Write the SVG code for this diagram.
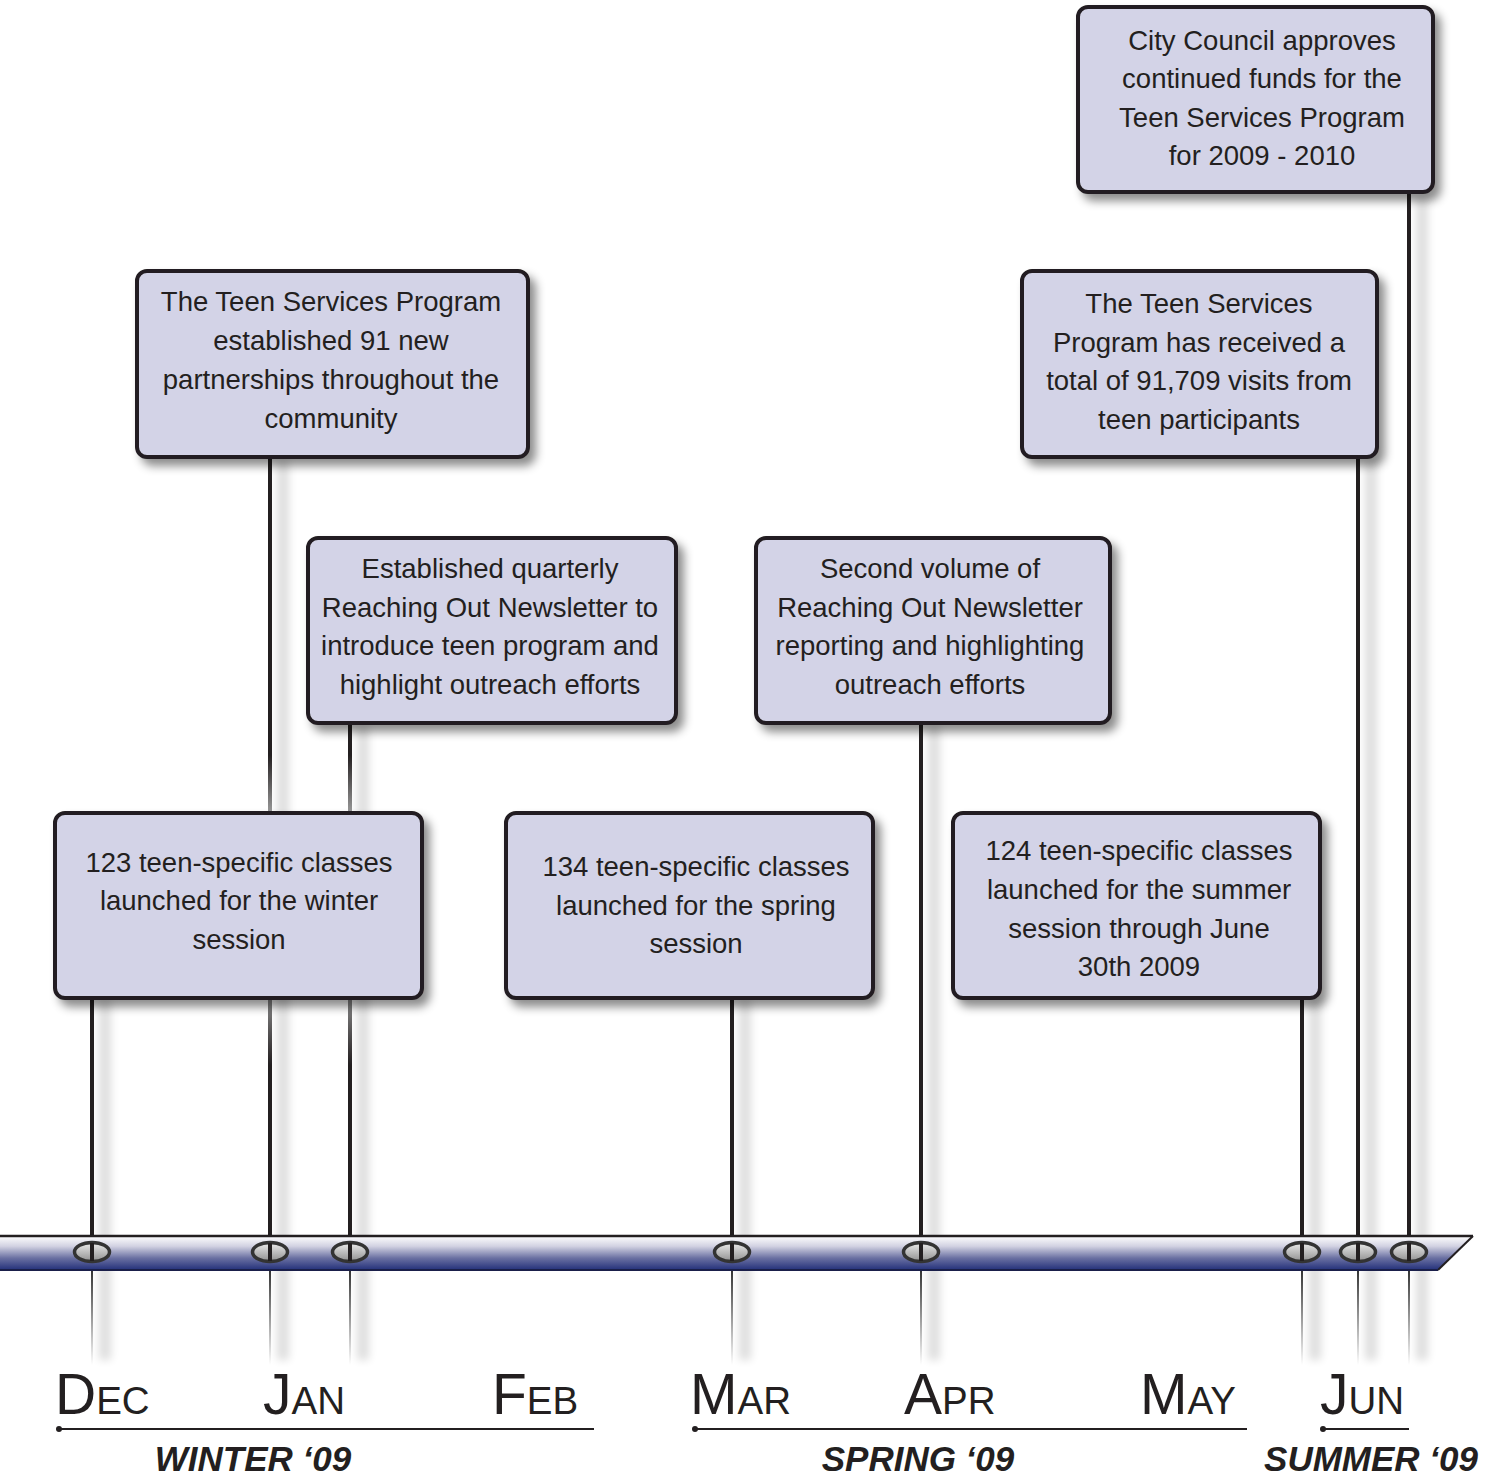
<svg xmlns="http://www.w3.org/2000/svg" width="1495" height="1477" viewBox="0 0 1495 1477">
<defs>
<style>
.box{fill:#d3d3e7;stroke:#231f20;stroke-width:4;filter:url(#ds)}
.bt{font-family:"Liberation Sans",Arial,sans-serif;font-size:27.5px;fill:#231f20;text-anchor:middle}
.con{stroke:#231f20;stroke-width:4;fill:none}
.sh{fill:#000;opacity:0.13;filter:url(#bl)}
.low{stroke:url(#lowg);stroke-width:2}
.mb{font-family:"Liberation Sans",Arial,sans-serif;font-size:57px;fill:#231f20}
.ms{font-size:38.5px}
.sea{font-family:"Liberation Sans",Arial,sans-serif;font-size:35px;font-weight:bold;font-style:italic;fill:#231f20;text-anchor:middle}
.ul{stroke:#231f20;stroke-width:2}
.mark{fill:url(#mg);stroke:#333;stroke-width:3.5}
</style>
<filter id="ds" x="-10%" y="-10%" width="125%" height="135%">
<feDropShadow dx="6" dy="7" stdDeviation="5" flood-color="#000" flood-opacity="0.45"/>
</filter>
<filter id="bl" x="-200%" y="-5%" width="500%" height="110%">
<feGaussianBlur stdDeviation="4"/>
</filter>
<linearGradient id="barg" x1="0" y1="0" x2="0" y2="1">
<stop offset="0" stop-color="#ffffff"/>
<stop offset="0.3" stop-color="#d2d2e2"/>
<stop offset="0.65" stop-color="#6a70a2"/>
<stop offset="1" stop-color="#23307a"/>
</linearGradient>
<linearGradient id="mg" x1="0" y1="0" x2="0" y2="1">
<stop offset="0" stop-color="#ececec"/>
<stop offset="1" stop-color="#909090"/>
</linearGradient>
<linearGradient id="lowg" gradientUnits="userSpaceOnUse" x1="0" y1="1270" x2="0" y2="1365">
<stop offset="0" stop-color="#333"/>
<stop offset="1" stop-color="#333" stop-opacity="0"/>
</linearGradient>
<linearGradient id="fadeA" gradientUnits="userSpaceOnUse" x1="0" y1="755" x2="0" y2="813">
<stop offset="0" stop-color="#231f20"/>
<stop offset="1" stop-color="#9a9a9a"/>
</linearGradient>
<linearGradient id="fadeB" gradientUnits="userSpaceOnUse" x1="0" y1="998" x2="0" y2="1065">
<stop offset="0" stop-color="#8a8a8a"/>
<stop offset="1" stop-color="#231f20"/>
</linearGradient>
</defs>
<rect width="1495" height="1477" fill="#fff"/>

<g id="line-shadows">
<rect class="sh" x="99" y="1000" width="12" height="360"/>
<rect class="sh" x="277" y="460" width="12" height="900"/>
<rect class="sh" x="357" y="726" width="12" height="634"/>
<rect class="sh" x="739" y="1000" width="12" height="360"/>
<rect class="sh" x="928" y="726" width="12" height="634"/>
<rect class="sh" x="1309" y="1000" width="12" height="360"/>
<rect class="sh" x="1365" y="460" width="12" height="900"/>
<rect class="sh" x="1416" y="195" width="12" height="1165"/>
</g>

<g id="connectors">
<line class="con" x1="92" y1="998" x2="92" y2="1259"/>
<line class="con" x1="270" y1="457" x2="270" y2="757"/>
<line x1="270" y1="755" x2="270" y2="815" stroke="url(#fadeA)" stroke-width="4"/>
<line x1="270" y1="996" x2="270" y2="1259" stroke="url(#fadeB)" stroke-width="4"/>
<line x1="350" y1="723" x2="350" y2="815" stroke="url(#fadeA)" stroke-width="4"/>
<line x1="350" y1="996" x2="350" y2="1259" stroke="url(#fadeB)" stroke-width="4"/>
<line class="con" x1="732" y1="998" x2="732" y2="1259"/>
<line class="con" x1="921" y1="723" x2="921" y2="1259"/>
<line class="con" x1="1302" y1="998" x2="1302" y2="1259"/>
<line class="con" x1="1358" y1="457" x2="1358" y2="1259"/>
<line class="con" x1="1409" y1="192" x2="1409" y2="1259"/>
</g>

<g id="timeline">
<polygon points="0,1236 1473,1236 1438,1270 0,1270" fill="url(#barg)"/>
<line x1="0" y1="1236" x2="1473" y2="1236" stroke="#231f20" stroke-width="2.5"/>
<line x1="1473" y1="1236" x2="1438" y2="1270" stroke="#231f20" stroke-width="2"/>
<line x1="0" y1="1270" x2="1438" y2="1270" stroke="#1a1f4a" stroke-width="2"/>
<g>
<line class="low" x1="92" y1="1271" x2="92" y2="1365"/>
<line class="low" x1="270" y1="1271" x2="270" y2="1365"/>
<line class="low" x1="350" y1="1271" x2="350" y2="1365"/>
<line class="low" x1="732" y1="1271" x2="732" y2="1365"/>
<line class="low" x1="921" y1="1271" x2="921" y2="1365"/>
<line class="low" x1="1302" y1="1271" x2="1302" y2="1365"/>
<line class="low" x1="1358" y1="1271" x2="1358" y2="1365"/>
<line class="low" x1="1409" y1="1271" x2="1409" y2="1365"/>
</g>
<g>
<ellipse class="mark" cx="92" cy="1252" rx="17.5" ry="9.5"/>
<ellipse class="mark" cx="270" cy="1252" rx="17.5" ry="9.5"/>
<ellipse class="mark" cx="350" cy="1252" rx="17.5" ry="9.5"/>
<ellipse class="mark" cx="732" cy="1252" rx="17.5" ry="9.5"/>
<ellipse class="mark" cx="921" cy="1252" rx="17.5" ry="9.5"/>
<ellipse class="mark" cx="1302" cy="1252" rx="17.5" ry="9.5"/>
<ellipse class="mark" cx="1358" cy="1252" rx="17.5" ry="9.5"/>
<ellipse class="mark" cx="1409" cy="1252" rx="17.5" ry="9.5"/>
</g>
<g stroke="#231f20" stroke-width="4">
<line x1="92" y1="1243" x2="92" y2="1261"/>
<line x1="270" y1="1243" x2="270" y2="1261"/>
<line x1="350" y1="1243" x2="350" y2="1261"/>
<line x1="732" y1="1243" x2="732" y2="1261"/>
<line x1="921" y1="1243" x2="921" y2="1261"/>
<line x1="1302" y1="1243" x2="1302" y2="1261"/>
<line x1="1358" y1="1243" x2="1358" y2="1261"/>
<line x1="1409" y1="1243" x2="1409" y2="1261"/>
</g>
</g>

<g id="node-council">
<rect class="box" x="1078" y="7" width="355" height="185" rx="10"/>
<text class="bt" x="1262" y="50">City Council approves</text>
<text class="bt" x="1262" y="88">continued funds for the</text>
<text class="bt" x="1262" y="127">Teen Services Program</text>
<text class="bt" x="1262" y="165">for 2009 - 2010</text>
</g>
<g id="node-partnerships">
<rect class="box" x="137" y="271" width="391" height="186" rx="10"/>
<text class="bt" x="331" y="311">The Teen Services Program</text>
<text class="bt" x="331" y="350">established 91 new</text>
<text class="bt" x="331" y="389">partnerships throughout the</text>
<text class="bt" x="331" y="428">community</text>
</g>
<g id="node-visits">
<rect class="box" x="1022" y="271" width="355" height="186" rx="10"/>
<text class="bt" x="1199" y="313">The Teen Services</text>
<text class="bt" x="1199" y="352">Program has received a</text>
<text class="bt" x="1199" y="390">total of 91,709 visits from</text>
<text class="bt" x="1199" y="429">teen participants</text>
</g>
<g id="node-newsletter1">
<rect class="box" x="308" y="538" width="368" height="185" rx="10"/>
<text class="bt" x="490" y="578">Established quarterly</text>
<text class="bt" x="490" y="617">Reaching Out Newsletter to</text>
<text class="bt" x="490" y="655">introduce teen program and</text>
<text class="bt" x="490" y="694">highlight outreach efforts</text>
</g>
<g id="node-newsletter2">
<rect class="box" x="756" y="538" width="354" height="185" rx="10"/>
<text class="bt" x="930" y="578">Second volume of</text>
<text class="bt" x="930" y="617">Reaching Out Newsletter</text>
<text class="bt" x="930" y="655">reporting and highlighting</text>
<text class="bt" x="930" y="694">outreach efforts</text>
</g>
<g id="node-winter">
<rect class="box" x="55" y="813" width="367" height="185" rx="10"/>
<text class="bt" x="239" y="872">123 teen-specific classes</text>
<text class="bt" x="239" y="910">launched for the winter</text>
<text class="bt" x="239" y="949">session</text>
</g>
<g id="node-spring">
<rect class="box" x="506" y="813" width="367" height="185" rx="10"/>
<text class="bt" x="696" y="876">134 teen-specific classes</text>
<text class="bt" x="696" y="915">launched for the spring</text>
<text class="bt" x="696" y="953">session</text>
</g>
<g id="node-summer">
<rect class="box" x="953" y="813" width="367" height="185" rx="10"/>
<text class="bt" x="1139" y="860">124 teen-specific classes</text>
<text class="bt" x="1139" y="899">launched for the summer</text>
<text class="bt" x="1139" y="938">session through June</text>
<text class="bt" x="1139" y="976">30th 2009</text>
</g>

<g id="months">
<text class="mb" x="55" y="1414">D<tspan class="ms">EC</tspan></text>
<text class="mb" x="263" y="1414">J<tspan class="ms">AN</tspan></text>
<text class="mb" x="492" y="1414">F<tspan class="ms">EB</tspan></text>
<text class="mb" x="690" y="1414">M<tspan class="ms">AR</tspan></text>
<text class="mb" x="904" y="1414">A<tspan class="ms">PR</tspan></text>
<text class="mb" x="1140" y="1414">M<tspan class="ms">AY</tspan></text>
<text class="mb" x="1320" y="1414">J<tspan class="ms">UN</tspan></text>
</g>
<g id="seasons">
<line class="ul" x1="58" y1="1429" x2="594" y2="1429"/>
<circle cx="59" cy="1429" r="3" fill="#231f20"/>
<line class="ul" x1="694" y1="1429" x2="1247" y2="1429"/>
<circle cx="695" cy="1429" r="3" fill="#231f20"/>
<line class="ul" x1="1322" y1="1429" x2="1409" y2="1429"/>
<circle cx="1323" cy="1429" r="3" fill="#231f20"/>
<text class="sea" x="253" y="1471">WINTER ‘09</text>
<text class="sea" x="918" y="1471">SPRING ‘09</text>
<text class="sea" x="1371" y="1471">SUMMER ‘09</text>
</g>
</svg>
